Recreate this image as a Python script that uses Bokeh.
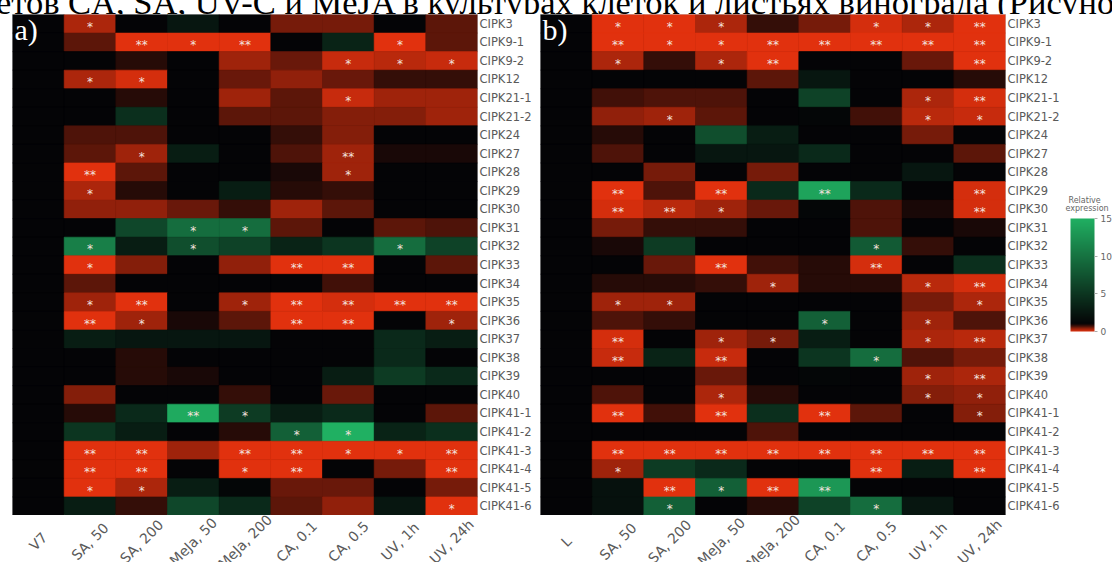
from bokeh.core.properties import value
from bokeh.embed import file_html
from bokeh.layouts import column, row
from bokeh.models import (ColorBar, ColumnDataSource, Div, FactorRange, FixedTicker, Label,
                          LinearColorMapper, Range1d)
from bokeh.plotting import figure
from bokeh.resources import INLINE
from bokeh.transform import transform
import math

# ---------------------------------------------------------------- data
genes = ["CIPK3", "CIPK9-1", "CIPK9-2", "CIPK12", "CIPK21-1", "CIPK21-2", "CIPK24",
         "CIPK27", "CIPK28", "CIPK29", "CIPK30", "CIPK31", "CIPK32", "CIPK33", "CIPK34",
         "CIPK35", "CIPK36", "CIPK37", "CIPK38", "CIPK39", "CIPK40", "CIPK41-1",
         "CIPK41-2", "CIPK41-3", "CIPK41-4", "CIPK41-5", "CIPK41-6"]

treatments = ["SA, 50", "SA, 200", "MeJa, 50", "MeJa, 200", "CA, 0.1", "CA, 0.5",
              "UV, 1h", "UV, 24h"]
conditions_a = ["V7"] + treatments   # cell cultures
conditions_b = ["L"] + treatments    # leaves

# relative expression, one row per gene, one value per condition
expression_a = [
    [1, 0.27, 1, 2.5, 1, 0.5, 0.5, 1, 0.6],
    [1, 0.6, 0.02, 0.03, 0.02, 1, 3.5, 0.05, 0.6],
    [1, 1, 0.85, 1, 0.3, 0.55, 0.15, 0.2, 0.15],
    [1, 0.25, 0.1, 1, 0.55, 0.4, 0.55, 0.8, 0.8],
    [1, 1, 0.85, 1, 0.35, 0.6, 0.15, 0.35, 0.35],
    [1, 1, 4.5, 1, 0.6, 0.6, 0.45, 0.45, 0.35],
    [1, 0.65, 0.65, 1, 1, 0.8, 0.45, 1, 1],
    [1, 0.6, 0.3, 3, 1, 0.65, 0.3, 0.9, 0.9],
    [1, 0.05, 0.6, 1, 1, 0.9, 0.3, 1, 1],
    [1, 0.25, 0.85, 1, 3, 0.85, 0.8, 1, 1],
    [1, 0.4, 0.4, 0.55, 0.8, 0.35, 0.6, 1, 1],
    [1, 1, 6.5, 9.5, 9.5, 0.6, 1, 0.6, 0.7],
    [1, 11, 3, 7, 6, 3.5, 5, 9.5, 6],
    [1, 0.05, 0.45, 1, 0.4, 0.05, 0.05, 1, 0.6],
    [1, 0.6, 1, 1, 1, 1, 0.75, 1, 1],
    [1, 0.3, 0.05, 1, 0.35, 0.05, 0.1, 0.05, 0.05],
    [1, 0.05, 0.3, 0.9, 0.6, 0.05, 0.05, 1, 0.3],
    [1, 3, 2.5, 2.5, 2.5, 1, 1, 4, 3],
    [1, 1, 0.85, 1, 1, 1, 1, 4, 1],
    [1, 1, 0.85, 0.9, 1, 1, 3, 5.5, 4],
    [1, 0.45, 1, 1, 0.8, 1, 0.55, 1, 1],
    [1, 0.85, 4, 14.5, 5.5, 3, 4, 1, 0.6],
    [1, 5, 3, 1, 0.85, 8.5, 15, 3.5, 4.5],
    [1, 0.02, 0.02, 0.3, 0.02, 0.02, 0.02, 0.02, 0.02],
    [1, 0.02, 0.02, 1, 0.02, 0.02, 1, 0.5, 0.02],
    [1, 0.05, 0.25, 3, 1.2, 0.55, 0.55, 1, 0.5],
    [1, 3, 0.8, 6.5, 4, 0.6, 0.4, 2.5, 0.05],
]

expression_b = [
    [1, 0.05, 0.05, 0.25, 0.8, 0.5, 0.1, 0.25, 0.05],
    [1, 0.02, 0.05, 0.05, 0.02, 0.02, 0.02, 0.05, 0.02],
    [1, 0.25, 0.8, 0.25, 0.05, 1, 1, 0.55, 0.05],
    [1, 1, 1, 1, 0.6, 2.5, 1, 1, 0.85],
    [1, 0.75, 0.7, 0.65, 1, 6, 1, 0.25, 0.1],
    [1, 0.4, 0.3, 0.6, 1, 1.2, 0.75, 0.2, 0.15],
    [1, 0.85, 1, 7, 3, 1, 1, 0.5, 1],
    [1, 0.7, 1, 2.5, 2.5, 4, 1, 1, 0.6],
    [1, 1, 0.5, 1, 0.5, 1, 1, 2.5, 1],
    [1, 0.05, 0.65, 0.05, 4, 14, 4, 1, 0.1],
    [1, 0.1, 0.2, 0.3, 0.55, 1.2, 0.7, 0.9, 0.1],
    [1, 0.5, 0.8, 0.8, 1, 1, 0.7, 1, 0.9],
    [1, 0.9, 5.5, 1, 1, 1, 8, 0.8, 1],
    [1, 1, 0.55, 0.05, 0.75, 0.85, 0.1, 1, 4.5],
    [1, 0.85, 0.85, 0.8, 0.3, 0.85, 0.85, 0.2, 0.1],
    [1, 0.3, 0.35, 1, 1, 1, 1, 0.5, 0.25],
    [1, 0.7, 0.8, 1, 1, 8.5, 1, 0.3, 0.7],
    [1, 0.1, 1, 0.35, 0.5, 3, 1, 0.25, 0.2],
    [1, 0.15, 3.5, 0.15, 1, 5, 9.5, 0.65, 0.5],
    [1, 1, 1, 0.55, 1, 1.2, 1, 0.3, 0.25],
    [1, 0.7, 1, 0.25, 0.85, 1, 1, 0.45, 0.4],
    [1, 0.05, 0.75, 0.05, 4.5, 0.05, 0.6, 1, 0.45],
    [1, 1, 1, 1, 0.7, 1, 1, 1, 1],
    [1, 0.02, 0.02, 0.02, 0.02, 0.02, 0.02, 0.02, 0.02],
    [1, 0.3, 5.5, 4, 1, 1, 0.05, 3, 0.05],
    [1, 2, 0.05, 8.5, 0.05, 13, 1, 1, 1],
    [1, 2, 8.5, 1, 0.85, 6, 9.5, 2.5, 1],
]

# significance marks (* / **)
significance_a = [
    ["", "*", "", "", "", "", "", "", ""],
    ["", "", "**", "*", "**", "", "", "*", ""],
    ["", "", "", "", "", "", "*", "*", "*"],
    ["", "*", "*", "", "", "", "", "", ""],
    ["", "", "", "", "", "", "*", "", ""],
    ["", "", "", "", "", "", "", "", ""],
    ["", "", "", "", "", "", "", "", ""],
    ["", "", "*", "", "", "", "**", "", ""],
    ["", "**", "", "", "", "", "*", "", ""],
    ["", "*", "", "", "", "", "", "", ""],
    ["", "", "", "", "", "", "", "", ""],
    ["", "", "", "*", "*", "", "", "", ""],
    ["", "*", "", "*", "", "", "", "*", ""],
    ["", "*", "", "", "", "**", "**", "", ""],
    ["", "", "", "", "", "", "", "", ""],
    ["", "*", "**", "", "*", "**", "**", "**", "**"],
    ["", "**", "*", "", "", "**", "**", "", "*"],
    ["", "", "", "", "", "", "", "", ""],
    ["", "", "", "", "", "", "", "", ""],
    ["", "", "", "", "", "", "", "", ""],
    ["", "", "", "", "", "", "", "", ""],
    ["", "", "", "**", "*", "", "", "", ""],
    ["", "", "", "", "", "*", "*", "", ""],
    ["", "**", "**", "", "**", "**", "*", "*", "**"],
    ["", "**", "**", "", "*", "**", "", "", "**"],
    ["", "*", "*", "", "", "", "", "", ""],
    ["", "", "", "", "", "", "", "", "*"],
]

significance_b = [
    ["", "*", "*", "*", "", "", "*", "*", "**"],
    ["", "**", "*", "*", "**", "**", "**", "**", "**"],
    ["", "*", "", "*", "**", "", "", "", "**"],
    ["", "", "", "", "", "", "", "", ""],
    ["", "", "", "", "", "", "", "*", "**"],
    ["", "", "*", "", "", "", "", "*", "*"],
    ["", "", "", "", "", "", "", "", ""],
    ["", "", "", "", "", "", "", "", ""],
    ["", "", "", "", "", "", "", "", ""],
    ["", "**", "", "**", "", "**", "", "", "**"],
    ["", "**", "**", "*", "", "", "", "", "**"],
    ["", "", "", "", "", "", "", "", ""],
    ["", "", "", "", "", "", "*", "", ""],
    ["", "", "", "**", "", "", "**", "", ""],
    ["", "", "", "", "*", "", "", "*", "**"],
    ["", "*", "*", "", "", "", "", "", "*"],
    ["", "", "", "", "", "*", "", "*", ""],
    ["", "**", "", "*", "*", "", "", "*", "**"],
    ["", "**", "", "**", "", "", "*", "", ""],
    ["", "", "", "", "", "", "", "*", "**"],
    ["", "", "", "*", "", "", "", "*", "*"],
    ["", "**", "", "**", "", "**", "", "", "*"],
    ["", "", "", "", "", "", "", "", ""],
    ["", "**", "**", "**", "**", "**", "**", "**", "**"],
    ["", "*", "", "", "", "", "**", "", "**"],
    ["", "", "**", "*", "**", "**", "", "", ""],
    ["", "", "*", "", "", "", "*", "", ""],
]

scale_ticks = [0, 5, 10, 15]
caption = "етов CA, SA, UV-C и MeJA в культурах клеток и листьях винограда (Рисуно"

# ---------------------------------------------------------------- colour scale
RED, BLACK, GREEN = (232, 50, 14), (4, 4, 6), (32, 176, 98)


def _mix(c1, c2, t):
    t = min(max(t, 0.0), 1.0)
    return tuple(int(round(a + (b - a) * t)) for a, b in zip(c1, c2))


palette = []
for i in range(256):
    v = (i + 0.5) * 15 / 256
    c = _mix(RED, BLACK, v) if v <= 1 else _mix(BLACK, GREEN, (v - 1) / 14)
    palette.append("#%02x%02x%02x" % c)

mapper = LinearColorMapper(palette=palette, low=0, high=15)

TEXT_GREY = "#5a5a5a"
FRAME_H = 501      # heatmap height
STRIP_H = 47       # room for the rotated condition names
AXIS_W = 56        # room for the gene names


def heatmap(conditions, expression, significance, tag, left):
    xs, ys, vs, ss = [], [], [], []
    for gene, vals, marks in zip(genes, expression, significance):
        for cond, v, s in zip(conditions, vals, marks):
            xs.append(cond)
            ys.append(gene)
            vs.append(v)
            ss.append(s)
    src = ColumnDataSource(dict(cond=xs, gene=ys, level=vs, sig=ss))
    x_range = FactorRange(factors=list(conditions))
    width = left + 466 + AXIS_W

    p = figure(x_range=x_range, y_range=list(reversed(genes)),
               width=width, height=FRAME_H, output_backend="svg",
               toolbar_location=None, x_axis_location=None, y_axis_location="right",
               min_border_left=left, min_border_right=AXIS_W,
               min_border_top=0, min_border_bottom=0)
    p.grid.visible = False
    p.outline_line_color = "#c8c8c8"
    p.outline_line_width = 1
    p.background_fill_color = "black"

    p.rect(x="cond", y="gene", width=1, height=1, source=src,
           fill_color=transform("level", mapper),
           line_color=transform("level", mapper), line_width=0.6)
    p.text(x="cond", y="gene", text="sig", source=src,
           text_align="center", text_baseline="middle", y_offset=3,
           text_font=value("DejaVu Sans"), text_font_size="12px",
           text_color="#f3e2df")

    ax = p.yaxis[0]
    ax.axis_line_color = None
    ax.major_tick_line_color = None
    ax.minor_tick_line_color = None
    ax.major_tick_out = 0
    ax.major_tick_in = 0
    ax.minor_tick_out = 0
    ax.major_label_standoff = 2
    ax.major_label_text_font = "DejaVu Sans"
    ax.major_label_text_font_size = "11.5px"
    ax.major_label_text_color = TEXT_GREY

    p.add_layout(Label(x=2, y=FRAME_H - 15, x_units="screen", y_units="screen",
                       text=tag, text_font="Liberation Serif",
                       text_font_size="30px", text_color="white",
                       text_baseline="alphabetic"))

    # strip below the heatmap carrying the rotated condition names
    s = figure(x_range=x_range, y_range=Range1d(-STRIP_H, 0),
               width=width, height=STRIP_H, output_backend="svg",
               toolbar_location=None, x_axis_location=None, y_axis_location=None,
               min_border_left=left, min_border_right=AXIS_W,
               min_border_top=0, min_border_bottom=0)
    s.grid.visible = False
    s.outline_line_color = None
    names = ColumnDataSource(dict(cond=list(conditions)))
    s.text(x="cond", y=-26, text="cond", source=names, angle=math.pi / 4,
           text_align="center", text_baseline="middle",
           text_font=value("DejaVu Sans"), text_font_size="14px",
           text_color=TEXT_GREY)
    return column(p, s)


panel_a = heatmap(conditions_a, expression_a, significance_a, "a)", 12)
panel_b = heatmap(conditions_b, expression_b, significance_b, "b)", 6)

# colour key
KEY_W = 1112 - (12 + 466 + AXIS_W) - (6 + 466 + AXIS_W)
key = figure(x_range=Range1d(0, 1), y_range=Range1d(0, 1), width=KEY_W,
             height=FRAME_H + STRIP_H, output_backend="svg", toolbar_location=None,
             x_axis_location=None, y_axis_location=None,
             min_border_left=0, min_border_right=0, min_border_top=0,
             min_border_bottom=0)
key.grid.visible = False
key.outline_line_color = None

bar = ColorBar(color_mapper=mapper, ticker=FixedTicker(ticks=scale_ticks),
               width=24, height=113, location=(8, 231), padding=0,
               major_label_text_font="DejaVu Sans", major_label_text_font_size="9px",
               major_label_text_color="#666666", label_standoff=3,
               major_tick_in=0, major_tick_out=3, major_tick_line_color="#aaaaaa",
               bar_line_color=None, border_line_color=None,
               background_fill_color=None)
key.add_layout(bar)

for txt, dx, dy in (("Relative", 6, 362), ("expression", 3, 354)):
    key.add_layout(Label(x=dx, y=dy, x_units="screen", y_units="screen", text=txt,
                         text_font="DejaVu Sans", text_font_size="8px",
                         text_color="#666666", text_baseline="middle"))

header = Div(
    text=('<div style="font-family:\'Liberation Serif\';font-size:34.5px;'
          'line-height:34px;white-space:nowrap;margin-top:-15px;margin-left:-4px;'
          'color:#000;">' + caption + '</div>'),
    width=1112, height=14, styles={"overflow": "hidden", "margin": "0"})

page = column(header, row(panel_a, panel_b, key))

with open("out.html", "w") as fh:
    fh.write(file_html(page, INLINE))
